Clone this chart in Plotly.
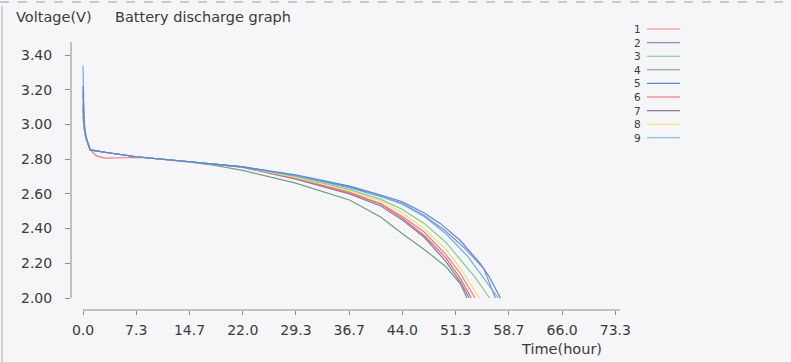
import plotly.graph_objects as go

# ---------------- data ----------------
series_names = ["1", "2", "3", "4", "5", "6", "7", "8", "9"]
series_colors = ["#f07a88", "#8392c8", "#86c98a", "#6f9c84", "#5a86d6",
                 "#ea6476", "#80809c", "#f1e06a", "#68b0dc"]

hours_1 = [0, 0.15, 0.4, 1.0, 1.8, 3.0, 5.5, 8.0, 14.7, 22.0, 29.3, 36.7, 41.0, 44.0, 47.0, 50.0, 52.0, 54.0]
volts_1 = [3.10, 2.99, 2.92, 2.853, 2.820, 2.806, 2.808, 2.810, 2.785, 2.756, 2.690, 2.610, 2.545, 2.470, 2.380, 2.250, 2.140, 2.000]

hours_2 = [0, 0.15, 0.4, 1.0, 3.0, 7.3, 14.7, 22.0, 29.3, 36.7, 41.0, 44.0, 47.0, 50.0, 52.5, 55.2, 56.8]
volts_2 = [3.18, 3.00, 2.93, 2.853, 2.840, 2.814, 2.785, 2.756, 2.705, 2.640, 2.585, 2.545, 2.475, 2.385, 2.290, 2.170, 2.000]

hours_3 = [0, 0.15, 0.4, 1.0, 3.0, 7.3, 14.7, 22.0, 29.3, 36.7, 41.0, 44.0, 47.0, 50.0, 52.0, 54.0, 56.0]
volts_3 = [3.05, 2.98, 2.92, 2.853, 2.840, 2.814, 2.785, 2.756, 2.700, 2.625, 2.570, 2.510, 2.430, 2.320, 2.220, 2.120, 2.000]

hours_4 = [0, 0.15, 0.4, 1.0, 3.0, 7.3, 14.7, 18.0, 22.0, 29.3, 36.7, 41.0, 44.0, 47.0, 50.0, 52.0, 52.9]
volts_4 = [3.05, 2.98, 2.92, 2.853, 2.840, 2.814, 2.783, 2.765, 2.735, 2.662, 2.565, 2.467, 2.370, 2.280, 2.180, 2.080, 2.000]

hours_5 = [0, 0.15, 0.4, 1.0, 3.0, 7.3, 14.7, 22.0, 29.3, 36.7, 41.0, 44.0, 47.0, 49.2, 51.9, 54.7, 56.0, 57.5]
volts_5 = [3.22, 3.00, 2.93, 2.853, 2.840, 2.814, 2.785, 2.756, 2.710, 2.645, 2.593, 2.555, 2.490, 2.430, 2.334, 2.200, 2.120, 2.000]

hours_6 = [0, 0.15, 0.4, 1.0, 3.0, 7.3, 14.7, 22.0, 29.3, 36.7, 41.0, 44.0, 47.0, 50.0, 52.0, 53.5]
volts_6 = [3.08, 2.98, 2.92, 2.853, 2.840, 2.814, 2.785, 2.756, 2.690, 2.605, 2.540, 2.460, 2.360, 2.230, 2.110, 2.000]

hours_7 = [0, 0.15, 0.4, 1.0, 3.0, 7.3, 14.7, 22.0, 29.3, 36.7, 41.0, 44.0, 47.0, 50.0, 52.0, 53.2]
volts_7 = [3.12, 2.99, 2.92, 2.853, 2.840, 2.814, 2.785, 2.752, 2.685, 2.600, 2.530, 2.450, 2.350, 2.210, 2.090, 2.000]

hours_8 = [0, 0.15, 0.4, 1.0, 3.0, 7.3, 14.7, 22.0, 29.3, 36.7, 41.0, 44.0, 47.0, 50.0, 52.0, 53.5, 54.6]
volts_8 = [3.06, 2.98, 2.92, 2.853, 2.840, 2.814, 2.785, 2.756, 2.695, 2.620, 2.560, 2.490, 2.400, 2.280, 2.170, 2.070, 2.000]

hours_9 = [0, 0.15, 0.4, 1.0, 3.0, 7.3, 14.7, 22.0, 29.3, 36.7, 41.0, 44.0, 47.0, 50.0, 53.0, 55.5, 57.2]
volts_9 = [3.34, 3.02, 2.93, 2.853, 2.840, 2.814, 2.785, 2.756, 2.705, 2.635, 2.585, 2.540, 2.470, 2.370, 2.240, 2.100, 2.000]

x_tick_values = [0, 22 / 3, 44 / 3, 22.0, 88 / 3, 110 / 3, 44.0, 154 / 3, 176 / 3, 66.0, 220 / 3]
x_tick_labels = ["0.0", "7.3", "14.7", "22.0", "29.3", "36.7", "44.0", "51.3", "58.7", "66.0", "73.3"]
y_tick_values = [2.0, 2.2, 2.4, 2.6, 2.8, 3.0, 3.2, 3.4]
y_tick_labels = ["2.00", "2.20", "2.40", "2.60", "2.80", "3.00", "3.20", "3.40"]

all_hours = [hours_1, hours_2, hours_3, hours_4, hours_5, hours_6, hours_7, hours_8, hours_9]
all_volts = [volts_1, volts_2, volts_3, volts_4, volts_5, volts_6, volts_7, volts_8, volts_9]

# ---------------- layout geometry (pixels) ----------------
W, H = 791, 362
L, R, T, B = 71, 620, 42, 310          # plot area edges in pixels
PW, PH = R - L, B - T


def px_x(px):
    return (px - L) / PW


def px_y(py):
    return (B - py) / PH


FONT = "DejaVu Sans"
TXT = "#3a3a3a"
AX = "#8c8c8c"

fig = go.Figure()
draw_order = [3, 6, 5, 0, 7, 2, 1, 8, 4]
for i in draw_order:
    fig.add_trace(go.Scatter(
        x=all_hours[i], y=all_volts[i], mode="lines", name=series_names[i],
        line=dict(color=series_colors[i], width=1.2), showlegend=False,
    ))

shapes = []
annotations = []

# axis lines
shapes.append(dict(type="line", xref="paper", yref="y", x0=0, x1=0, y0=2.0, y1=3.475,
                   line=dict(color=AX, width=1)))
shapes.append(dict(type="line", xref="x", yref="paper", x0=0, x1=73.97, y0=0, y1=0,
                   line=dict(color=AX, width=1)))
# scan artefacts: dashed top rule and left border
shapes.append(dict(type="line", xref="paper", yref="paper", x0=px_x(0), x1=px_x(786),
                   y0=px_y(2), y1=px_y(2), line=dict(color="#9a9aa4", width=1, dash="dash")))
shapes.append(dict(type="line", xref="paper", yref="paper", x0=px_x(2), x1=px_x(2),
                   y0=px_y(6), y1=px_y(362), line=dict(color="#c4c4cc", width=1.5)))

# legend drawn as label + line sample (numbers to the left of the line)
for k, (name, col) in enumerate(zip(series_names, series_colors)):
    py = 29 + 13.6 * k
    annotations.append(dict(text=name, xref="paper", yref="paper", x=px_x(643), y=px_y(py),
                            xanchor="right", yanchor="middle", showarrow=False,
                            font=dict(family=FONT, size=10.5, color=TXT)))
    shapes.append(dict(type="line", xref="paper", yref="paper", x0=px_x(647), x1=px_x(680),
                       y0=px_y(py), y1=px_y(py), line=dict(color=col, width=1.1)))

annotations.append(dict(text="Voltage(V)", xref="paper", yref="paper", x=px_x(14), y=px_y(16.5),
                        xanchor="left", yanchor="middle", showarrow=False,
                        font=dict(family=FONT, size=14.5, color=TXT)))
annotations.append(dict(text="Battery discharge graph", xref="paper", yref="paper", x=px_x(113), y=px_y(16.5),
                        xanchor="left", yanchor="middle", showarrow=False,
                        font=dict(family=FONT, size=14.5, color=TXT)))
annotations.append(dict(text="Time(hour)", xref="paper", yref="paper", x=px_x(519), y=px_y(349),
                        xanchor="left", yanchor="middle", showarrow=False,
                        font=dict(family=FONT, size=14.5, color=TXT)))

fig.update_layout(
    width=W, height=H,
    margin=dict(l=L, r=W - R, t=T, b=H - B, pad=0),
    paper_bgcolor="#f6f6f9", plot_bgcolor="#f6f6f9",
    shapes=shapes, annotations=annotations, showlegend=False,
    xaxis=dict(range=[-1.653, 73.97], tickmode="array", tickvals=x_tick_values, ticktext=x_tick_labels,
               showgrid=False, zeroline=False, showline=False, ticks="outside", ticklen=4,
               tickcolor=AX, tickwidth=1, ticklabelstandoff=3,
               tickfont=dict(family=FONT, size=14, color=TXT)),
    yaxis=dict(range=[1.931, 3.475], tickmode="array", tickvals=y_tick_values, ticktext=y_tick_labels,
               showgrid=False, zeroline=False, showline=False, ticks="outside", ticklen=5,
               tickcolor=AX, tickwidth=1, ticklabelstandoff=10,
               tickfont=dict(family=FONT, size=14, color=TXT)),
)

fig.write_html("out.html", config={"displayModeBar": False},
               post_script="document.body.style.margin='0';document.body.style.background='#f6f6f9';")
